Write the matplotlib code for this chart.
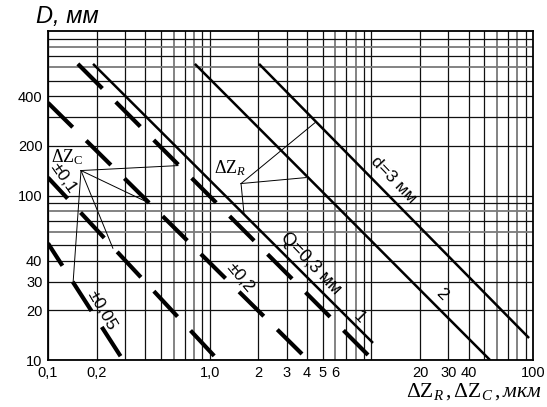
import matplotlib
matplotlib.use('Agg')
import matplotlib.pyplot as plt
import numpy as np

plt.rcParams['font.family'] = ['Liberation Sans', 'DejaVu Sans']
plt.rcParams['mathtext.fontset'] = 'custom'
plt.rcParams['mathtext.rm'] = 'Liberation Serif'
plt.rcParams['mathtext.it'] = 'Liberation Serif:italic'
plt.rcParams['mathtext.bf'] = 'Liberation Serif:bold'

# оси (лог-лог)
x_ticks = [0.1, 0.2, 1, 2, 3, 4, 5, 6, 20, 30, 40, 100]
x_labels = ['0,1', '0,2', '1,0', '2', '3', '4', '5', '6', '20', '30', '40', '100']
y_ticks = [10, 20, 30, 40, 100, 200, 400]
y_labels = ['10', '20', '30', '40', '100', '200', '400']

# сплошные линии: (x начала, D начала), (x конца, D конца)
line1_x = [0.19, 10.24]    # Q=0,3 мм
line1_y = [631, 12.7]
line2_x = [0.81, 54.2]
line2_y = [631, 10]
line3_x = [2.02, 94.5]     # d=3 мм
line3_y = [631, 13.6]

# штриховые линии (допуски)
dash1_x = [0.153, 10.24]
dash1_y = [631, 10]
dash_a_x = [0.1, 4.06]     # ±0,2
dash_a_y = [366, 10]
dash_b_x = [0.1, 1.126]    # ±0,1
dash_b_y = [128.5, 10]
dash_c_x = [0.1, 0.291]    # ±0,05
dash_c_y = [51.2, 10]

# выноски ΔZ_C и ΔZ_R
zc_point = (0.16, 141.8)
zc_targets_x = [0.637, 0.428, 0.252, 0.143]
zc_targets_y = [152, 89.4, 47.8, 29.7]
zr_point = (1.563, 118.2)
zr_targets_x = [4.48, 3.94, 1.63]
zr_targets_y = [277, 128.5, 77.8]

fig = plt.figure(figsize=(5.47, 4.07), dpi=100)
ax = fig.add_axes([48/547, 47/407, 485/547, 329/407])
ax.set_xscale('log')
ax.set_yscale('log')
ax.set_xlim(0.1, 100)
ax.set_ylim(10, 1000)

# сетка (часть линий на скане серее)
grey_subs = [6, 8]
for dec in [0.1, 1, 10]:
    for k in range(1, 10):
        if k in grey_subs:
            ax.axvline(dec*k, color='#7a7a7a', lw=1.3, zorder=1)
        else:
            ax.axvline(dec*k, color='#111111', lw=0.9, zorder=1)
for dec in [10, 100]:
    for k in range(1, 10):
        if k in grey_subs:
            ax.axhline(dec*k, color='#7a7a7a', lw=1.3, zorder=1)
        else:
            ax.axhline(dec*k, color='#111111', lw=0.9, zorder=1)

# основные линии
for xs, ys in [(line1_x, line1_y), (line2_x, line2_y), (line3_x, line3_y)]:
    ax.plot(xs, ys, color='k', lw=1.8, solid_capstyle='butt', zorder=3)

lw_d = 3.0
on, off = 25/lw_d, 13.7/lw_d
ax.plot(dash1_x, dash1_y, color='k', lw=lw_d, linestyle=(0, (on, off)), zorder=3)
ax.plot(dash_a_x, dash_a_y, color='k', lw=lw_d, linestyle=(0, (on, off)), zorder=3)
ax.plot(dash_b_x, dash_b_y, color='k', lw=lw_d, linestyle=(4.3/lw_d, (on, off)), zorder=3)
ax.plot(dash_c_x, dash_c_y, color='k', lw=lw_d, linestyle=(5.8/lw_d, (on, off)), zorder=3)

# выноски
for tx, ty in zip(zc_targets_x, zc_targets_y):
    ax.plot([zc_point[0], tx], [zc_point[1], ty], color='k', lw=0.7, zorder=2)
for tx, ty in zip(zr_targets_x, zr_targets_y):
    ax.plot([zr_point[0], tx], [zr_point[1], ty], color='k', lw=0.7, zorder=2)

# подписи линий
ax.text(13.8, 125, 'd=3 мм', rotation=-46, fontsize=12.5, ha='center', va='center',
        rotation_mode='anchor', zorder=4)
ax.text(4.24, 38.7, 'Q=0,3 мм', rotation=-46, fontsize=13, ha='center', va='center',
        rotation_mode='anchor', zorder=4)
ax.text(8.39, 18.2, '1', rotation=-45, fontsize=12.5, ha='center', va='center', zorder=4)
ax.text(27.4, 25.1, '2', rotation=-45, fontsize=12.5, ha='center', va='center', zorder=4)
ax.text(1.54, 31.8, '±0,2', rotation=-50, fontsize=12.5, ha='center', va='center',
        rotation_mode='anchor', zorder=4)
ax.text(0.216, 20.1, '±0,05', rotation=-60, fontsize=12.5, ha='center', va='center',
        rotation_mode='anchor', zorder=4)
ax.text(0.124, 126.8, '±0,1', rotation=-55, fontsize=12.5, ha='center', va='center',
        rotation_mode='anchor', zorder=4)
ax.text(0.131, 170, r'$\mathrm{\Delta Z_C}$', fontsize=13, ha='center', va='center', zorder=4)
ax.text(1.336, 146, r'$\mathrm{\Delta Z}_{R}$', fontsize=13, ha='center', va='center', zorder=4)

# оси и подписи
ax.set_xticks(x_ticks)
ax.set_xticklabels(x_labels)
ax.set_yticks(y_ticks)
ax.set_yticklabels(y_labels)
ax.minorticks_off()
ax.tick_params(length=0, labelsize=10.5, pad=4)
for s in ax.spines.values():
    s.set_linewidth(1.3)

fig.text(36/547, (407-23)/407, 'D, мм', fontsize=17, style='italic', ha='left', va='baseline')
fig.text(474/547, 15/407, r'$\mathrm{\Delta Z}_{R}\,,\mathrm{\Delta Z}_{C}\,,\mathit{мкм}$',
         fontsize=15.5, ha='center', va='center')

fig.savefig('out.png', dpi=100)
